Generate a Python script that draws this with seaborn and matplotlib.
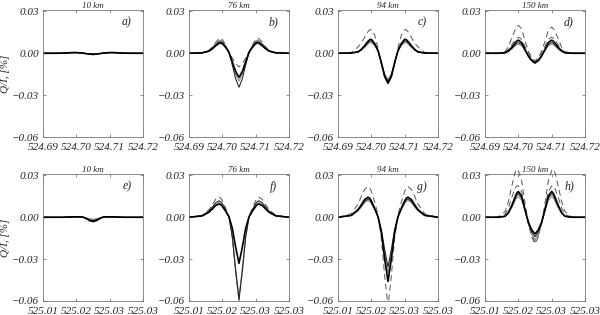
import matplotlib
matplotlib.use("Agg")
import matplotlib.pyplot as plt
import seaborn as sns

# wavelength grids (nm)
WL_TOP = [524.690, 524.694, 524.696, 524.697, 524.698, 524.699, 524.6995, 524.700, 524.701,
          524.702, 524.703, 524.704, 524.705, 524.706, 524.707, 524.708, 524.709, 524.710,
          524.7105, 524.711, 524.712, 524.713, 524.714, 524.716, 524.720]
WL_BOT = [525.010, 525.014, 525.016, 525.017, 525.018, 525.019, 525.0195, 525.020, 525.021,
          525.022, 525.023, 525.024, 525.025, 525.026, 525.027, 525.028, 525.029, 525.030,
          525.0305, 525.031, 525.032, 525.033, 525.034, 525.036, 525.040]

XLIM_TOP = (524.69, 524.72)
XLIM_BOT = (525.01, 525.04)
XTICKS_TOP = [524.69, 524.70, 524.71, 524.72]
XTICKS_BOT = [525.01, 525.02, 525.03, 525.04]
XLABELS_TOP = ["524.69", "524.70", "524.71", "524.72"]
XLABELS_BOT = ["525.01", "525.02", "525.03", "525.03"]
YTICKS = [-0.06, -0.03, 0.00, 0.03]
YLABELS = ["\u22120.06", "\u22120.03", "0.00", "0.03"]

HEIGHTS = ["10 km", "76 km", "94 km", "150 km"]
LETTERS = ["a)", "b)", "c)", "d)", "e)", "f)", "g)", "h)"]

# Q/I profiles [%]
A_K1 = [0, 0, 0.0001, 0.0002, 0.0004, 0.0005, 0.0005, 0.0005, 0.0003, 0.0001, -0.0003, -0.0006, -0.0008,
        -0.0006, -0.0003, 0.0001, 0.0003, 0.0005, 0.0005, 0.0005, 0.0004, 0.0002, 0.0001, 0, 0]
A_K2 = [0, 0, 0.0001, 0.0002, 0.0003, 0.0004, 0.0004, 0.0004, 0.0002, 0.0001, -0.0002, -0.0005, -0.0006,
        -0.0005, -0.0002, 0.0001, 0.0002, 0.0004, 0.0004, 0.0004, 0.0003, 0.0002, 0.0001, 0, 0]
A_G = [0, 0, 0.0001, 0.0001, 0.0002, 0.0003, 0.0003, 0.0003, 0.0002, 0, -0.0002, -0.0004, -0.0005,
       -0.0004, -0.0002, 0, 0.0002, 0.0003, 0.0003, 0.0003, 0.0002, 0.0001, 0.0001, 0, 0]
A_D1 = [0, 0.0001, 0.0002, 0.0003, 0.0005, 0.0006, 0.0006, 0.0006, 0.0004, 0.0001, -0.0004, -0.0008, -0.0010,
        -0.0008, -0.0004, 0.0001, 0.0004, 0.0006, 0.0006, 0.0006, 0.0005, 0.0003, 0.0002, 0.0001, 0]

B_K1 = [0, 0.0003, 0.0016, 0.0034, 0.0058, 0.0077, 0.0080, 0.0074, 0.0044, 0.0006, -0.0061, -0.0130, -0.0173,
        -0.0130, -0.0061, 0.0006, 0.0044, 0.0074, 0.0080, 0.0077, 0.0058, 0.0034, 0.0016, 0.0003, 0]
B_K2 = [0, 0.0003, 0.0014, 0.0029, 0.0050, 0.0067, 0.0070, 0.0065, 0.0039, 0.0006, -0.0085, -0.0183, -0.0244,
        -0.0183, -0.0085, 0.0006, 0.0039, 0.0065, 0.0070, 0.0067, 0.0050, 0.0029, 0.0014, 0.0003, 0]
B_G = [0, 0.0004, 0.0019, 0.0039, 0.0068, 0.0090, 0.0094, 0.0087, 0.0052, 0.0008, -0.0070, -0.0150, -0.0200,
       -0.0150, -0.0070, 0.0008, 0.0052, 0.0087, 0.0094, 0.0090, 0.0068, 0.0039, 0.0019, 0.0004, 0]
B_D1 = [0, 0.0004, 0.0022, 0.0045, 0.0078, 0.0104, 0.0108, 0.0100, 0.0059, 0.0009, -0.0034, -0.0074, -0.0098,
        -0.0074, -0.0034, 0.0009, 0.0059, 0.0100, 0.0108, 0.0104, 0.0078, 0.0045, 0.0022, 0.0004, 0]

C_K1 = [0, 0.0002, 0.0010, 0.0028, 0.0055, 0.0085, 0.0097, 0.0100, 0.0070, 0.0020, -0.0069, -0.0168, -0.0215,
        -0.0168, -0.0069, 0.0020, 0.0070, 0.0100, 0.0097, 0.0085, 0.0055, 0.0028, 0.0010, 0.0002, 0]
C_K2 = [0, 0.0002, 0.0009, 0.0025, 0.0049, 0.0076, 0.0086, 0.0089, 0.0062, 0.0018, -0.0064, -0.0156, -0.0200,
        -0.0156, -0.0064, 0.0018, 0.0062, 0.0089, 0.0086, 0.0076, 0.0049, 0.0025, 0.0009, 0.0002, 0]
C_G = [0, 0.0002, 0.0008, 0.0022, 0.0042, 0.0065, 0.0075, 0.0077, 0.0054, 0.0015, -0.0061, -0.0148, -0.0190,
       -0.0148, -0.0061, 0.0015, 0.0054, 0.0077, 0.0075, 0.0065, 0.0042, 0.0022, 0.0008, 0.0002, 0]
C_D1 = [0, 0.0006, 0.0045, 0.0075, 0.0115, 0.0155, 0.0168, 0.0170, 0.0130, 0.0040, -0.0080, -0.0165, -0.0210,
        -0.0165, -0.0080, 0.0040, 0.0130, 0.0170, 0.0168, 0.0155, 0.0115, 0.0075, 0.0045, 0.0006, 0]

D_K1 = [0, 0, 0.0004, 0.0017, 0.0042, 0.0073, 0.0087, 0.0094, 0.0077, 0.0028, -0.0020, -0.0053, -0.0070,
        -0.0053, -0.0020, 0.0028, 0.0077, 0.0094, 0.0087, 0.0073, 0.0042, 0.0017, 0.0004, 0, 0]
D_K2 = [0, 0, 0.0003, 0.0014, 0.0035, 0.0060, 0.0072, 0.0077, 0.0063, 0.0023, -0.0018, -0.0049, -0.0065,
        -0.0049, -0.0018, 0.0023, 0.0063, 0.0077, 0.0072, 0.0060, 0.0035, 0.0014, 0.0003, 0, 0]
D_G = [0, 0, 0.0003, 0.0012, 0.0030, 0.0051, 0.0061, 0.0066, 0.0054, 0.0020, -0.0017, -0.0045, -0.0060,
       -0.0045, -0.0017, 0.0020, 0.0054, 0.0066, 0.0061, 0.0051, 0.0030, 0.0012, 0.0003, 0, 0]
D_D1 = [0, 0.0002, 0.0012, 0.0045, 0.0110, 0.0165, 0.0188, 0.0200, 0.0175, 0.0090, 0.0015, -0.0030, -0.0055,
        -0.0030, 0.0014, 0.0085, 0.0165, 0.0187, 0.0176, 0.0155, 0.0103, 0.0042, 0.0011, 0.0002, 0]
D_D2 = [0, 0.0001, 0.0007, 0.0025, 0.0060, 0.0095, 0.0108, 0.0115, 0.0100, 0.0050, 0.0005, -0.0035, -0.0060,
        -0.0035, 0.0005, 0.0050, 0.0100, 0.0115, 0.0108, 0.0095, 0.0060, 0.0025, 0.0007, 0.0001, 0]

E_K1 = [0, 0, 0, 0.0001, 0.0002, 0.0003, 0.0003, 0.0003, 0.0003, 0.0001, -0.0010, -0.0024, -0.0031,
        -0.0024, -0.0010, 0.0001, 0.0003, 0.0003, 0.0003, 0.0003, 0.0002, 0.0001, 0, 0, 0]
E_K2 = [0, 0, 0, 0.0001, 0.0002, 0.0002, 0.0002, 0.0002, 0.0002, 0.0001, -0.0007, -0.0017, -0.0022,
        -0.0017, -0.0007, 0.0001, 0.0002, 0.0002, 0.0002, 0.0002, 0.0002, 0.0001, 0, 0, 0]
E_G = [0, 0, 0, 0, 0.0001, 0.0002, 0.0002, 0.0002, 0.0002, 0.0001, -0.0005, -0.0011, -0.0015,
       -0.0011, -0.0005, 0.0001, 0.0002, 0.0002, 0.0002, 0.0002, 0.0001, 0, 0, 0, 0]
E_D1 = [0, 0, 0.0001, 0.0002, 0.0003, 0.0004, 0.0004, 0.0004, 0.0003, 0.0001, -0.0008, -0.0020, -0.0026,
        -0.0020, -0.0008, 0.0001, 0.0003, 0.0004, 0.0004, 0.0004, 0.0003, 0.0002, 0.0001, 0, 0]

F_K1 = [0, 0.0010, 0.0036, 0.0059, 0.0084, 0.0095, 0.0090, 0.0078, 0.0043, 0.0003, -0.0079, -0.0215, -0.0330,
        -0.0215, -0.0079, 0.0003, 0.0043, 0.0078, 0.0090, 0.0095, 0.0084, 0.0059, 0.0036, 0.0010, 0]
F_K2 = [0, 0.0012, 0.0045, 0.0073, 0.0104, 0.0118, 0.0112, 0.0097, 0.0053, 0.0004, -0.0142, -0.0384, -0.0590,
        -0.0384, -0.0142, 0.0004, 0.0053, 0.0097, 0.0112, 0.0118, 0.0104, 0.0073, 0.0045, 0.0012, 0]
F_G = [0, 0.0011, 0.0040, 0.0065, 0.0092, 0.0105, 0.0100, 0.0086, 0.0047, 0.0003, -0.0137, -0.0371, -0.0570,
       -0.0371, -0.0137, 0.0003, 0.0047, 0.0086, 0.0100, 0.0105, 0.0092, 0.0065, 0.0040, 0.0011, 0]
F_D1 = [0, 0.0015, 0.0055, 0.0090, 0.0128, 0.0145, 0.0138, 0.0119, 0.0065, 0.0004, -0.0144, -0.0390, -0.0600,
        -0.0390, -0.0144, 0.0004, 0.0065, 0.0119, 0.0138, 0.0145, 0.0128, 0.0090, 0.0055, 0.0015, 0]

G_K1 = [0, 0.0014, 0.0055, 0.0089, 0.0127, 0.0144, 0.0137, 0.0118, 0.0065, 0.0004, -0.0110, -0.0299, -0.0460,
        -0.0299, -0.0110, 0.0004, 0.0065, 0.0118, 0.0137, 0.0144, 0.0127, 0.0089, 0.0055, 0.0014, 0]
G_K2 = [0, 0.0013, 0.0049, 0.0081, 0.0114, 0.0130, 0.0124, 0.0107, 0.0059, 0.0004, -0.0085, -0.0231, -0.0355,
        -0.0231, -0.0085, 0.0004, 0.0059, 0.0107, 0.0124, 0.0130, 0.0114, 0.0081, 0.0049, 0.0013, 0]
G_G = [0, 0.0012, 0.0046, 0.0074, 0.0106, 0.0120, 0.0114, 0.0098, 0.0054, 0.0004, -0.0096, -0.0260, -0.0400,
       -0.0260, -0.0096, 0.0004, 0.0054, 0.0098, 0.0114, 0.0120, 0.0106, 0.0074, 0.0046, 0.0012, 0]
G_D1 = [0, 0.0025, 0.0095, 0.0150, 0.0200, 0.0220, 0.0210, 0.0185, 0.0110, 0.0020, -0.0150, -0.0420, -0.0640,
        -0.0420, -0.0150, 0.0020, 0.0110, 0.0185, 0.0210, 0.0220, 0.0200, 0.0150, 0.0095, 0.0025, 0]

H_K1 = [0, 0, 0.0007, 0.0033, 0.0083, 0.0144, 0.0172, 0.0185, 0.0152, 0.0056, -0.0034, -0.0090, -0.0120,
        -0.0090, -0.0034, 0.0056, 0.0152, 0.0185, 0.0172, 0.0144, 0.0083, 0.0033, 0.0007, 0, 0]
H_K2 = [0, 0, 0.0007, 0.0030, 0.0076, 0.0131, 0.0156, 0.0168, 0.0138, 0.0050, -0.0039, -0.0105, -0.0140,
        -0.0105, -0.0039, 0.0050, 0.0138, 0.0168, 0.0156, 0.0131, 0.0076, 0.0030, 0.0007, 0, 0]
H_G = [0, 0, 0.0006, 0.0027, 0.0067, 0.0116, 0.0139, 0.0149, 0.0122, 0.0045, -0.0046, -0.0122, -0.0163,
       -0.0122, -0.0046, 0.0045, 0.0122, 0.0149, 0.0139, 0.0116, 0.0067, 0.0027, 0.0006, 0, 0]
H_D1 = [0, 0.0003, 0.0040, 0.0110, 0.0220, 0.0320, 0.0345, 0.0335, 0.0260, 0.0100, -0.0040, -0.0140, -0.0190,
        -0.0140, -0.0040, 0.0100, 0.0260, 0.0335, 0.0345, 0.0320, 0.0220, 0.0110, 0.0040, 0.0003, 0]
H_D2 = [0, 0.0001, 0.0020, 0.0065, 0.0140, 0.0205, 0.0225, 0.0225, 0.0180, 0.0070, -0.0045, -0.0130, -0.0175,
        -0.0130, -0.0045, 0.0070, 0.0180, 0.0225, 0.0225, 0.0205, 0.0140, 0.0065, 0.0020, 0.0001, 0]

# (dashed curves, gray curves, thin black, thick black) per panel
PANEL_CURVES = [
    ([A_D1], [A_G], [A_K2], [A_K1]),
    ([B_D1], [B_G], [B_K2], [B_K1]),
    ([C_D1], [C_G], [C_K2], [C_K1]),
    ([D_D1, D_D2], [D_G], [D_K2], [D_K1]),
    ([E_D1], [E_G], [E_K2], [E_K1]),
    ([F_D1], [F_G], [F_K2], [F_K1]),
    ([G_D1], [G_G], [G_K2], [G_K1]),
    ([H_D1, H_D2], [H_G], [H_K2], [H_K1]),
]

sns.set_style("ticks")
plt.rcParams["font.family"] = ["Liberation Serif", "DejaVu Serif"]
plt.rcParams["font.style"] = "italic"

fig = plt.figure(figsize=(6.0, 3.15), dpi=100)
lefts = [43, 189, 338, 485]
W, H = 600.0, 315.0

for i in range(8):
    row, col = divmod(i, 4)
    top_px = 10 if row == 0 else 174
    ax = fig.add_axes([lefts[col] / W, 1 - (top_px + 127) / H, 100 / W, 127 / H])
    wl = WL_TOP if row == 0 else WL_BOT
    dashed, grays, thins, thicks = PANEL_CURVES[i]
    for y in dashed:
        sns.lineplot(x=wl, y=y, ax=ax, color="#555555", linewidth=0.7,
                     linestyle=(0, (6, 4)), estimator=None, sort=False, clip_on=(i != 7))
    for y in grays:
        sns.lineplot(x=wl, y=y, ax=ax, color="#8a8a8a", linewidth=0.8,
                     estimator=None, sort=False)
    for y in thins:
        sns.lineplot(x=wl, y=y, ax=ax, color="#222222", linewidth=0.75,
                     estimator=None, sort=False)
    for y in thicks:
        sns.lineplot(x=wl, y=y, ax=ax, color="black", linewidth=1.2,
                     estimator=None, sort=False)

    ax.set_xlim(XLIM_TOP if row == 0 else XLIM_BOT)
    ax.set_ylim(-0.06, 0.031)
    ax.set_xticks(XTICKS_TOP if row == 0 else XTICKS_BOT)
    ax.set_xticklabels(XLABELS_TOP if row == 0 else XLABELS_BOT)
    ax.set_yticks(YTICKS)
    ax.set_yticklabels(YLABELS)
    ax.tick_params(direction="in", length=2.5, width=0.5, color="#666666",
                   top=True, right=True, labelsize=8)
    ax.tick_params(axis="x", pad=4)
    ax.tick_params(axis="y", pad=3)
    for s in ax.spines.values():
        s.set_color("#777777")
        s.set_linewidth(0.6)
    ax.set_title(HEIGHTS[col], fontsize=6.5, pad=1.5)
    ax.text(0.84, 0.90, LETTERS[i], transform=ax.transAxes, fontsize=8.5,
            ha="center", va="center")
    if col == 0:
        ax.set_ylabel("Q/I, [%]", fontsize=8)
        ax.yaxis.set_label_coords(-0.33, 0.5)
    else:
        ax.set_ylabel("")

fig.savefig("out.png", dpi=100)
